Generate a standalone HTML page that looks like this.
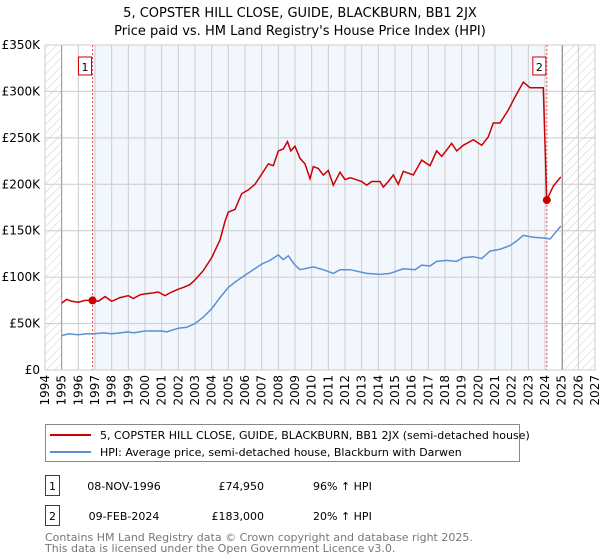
<!DOCTYPE html>
<html><head><meta charset="utf-8"><style>
body{margin:0;background:#fff;font-family:"Liberation Sans","DejaVu Sans",sans-serif;}
#wrap{position:relative;width:600px;height:560px;overflow:hidden}
svg text{font-family:"DejaVu Sans","Liberation Sans",sans-serif}
</style></head><body>
<div id="wrap">
<svg id="chart" width="600" height="560"></svg>
</div>
<script>
const redYears=[1995.0,1995.3,1995.6,1996.0,1996.4,1996.85,1997.2,1997.6,1998.0,1998.5,1999.0,1999.3,1999.7,2000.0,2000.5,2000.8,2001.2,2001.6,2002.0,2002.3,2002.7,2003.0,2003.5,2004.0,2004.5,2004.8,2005.0,2005.4,2005.8,2006.2,2006.6,2007.0,2007.4,2007.7,2008.0,2008.3,2008.55,2008.75,2009.0,2009.3,2009.6,2009.9,2010.1,2010.4,2010.7,2011.0,2011.3,2011.7,2012.0,2012.3,2012.5,2013.0,2013.3,2013.6,2014.1,2014.3,2014.6,2014.9,2015.2,2015.5,2016.1,2016.6,2017.1,2017.5,2017.8,2018.4,2018.7,2019.1,2019.7,2020.2,2020.6,2020.9,2021.3,2021.8,2022.2,2022.7,2023.1,2023.9,2024.1,2024.5,2024.95];
const redValues=[72,76,74,73,75,75,74,79,74,78,80,77,81,82,83,84,80,84,87,89,92,97,107,121,140,160,170,173,190,194,200,211,222,220,236,238,246,236,241,228,222,206,219,217,210,215,199,213,205,207,206,203,199,203,203,197,203,210,200,214,210,226,220,236,230,244,236,242,248,242,251,266,266,280,294,310,304,304,183,198,208];
const blueYears=[1995.0,1995.4,1996.0,1996.5,1997,1997.5,1998,1998.5,1999,1999.3,2000,2000.5,2001,2001.3,2002,2002.5,2003,2003.5,2004,2004.5,2005,2005.5,2006,2006.5,2007,2007.5,2008,2008.3,2008.6,2009,2009.3,2010.1,2010.7,2011.3,2011.7,2012.3,2013.3,2014.1,2014.7,2015.5,2016.2,2016.6,2017.1,2017.5,2018.1,2018.7,2019.1,2019.7,2020.2,2020.7,2021.3,2021.9,2022.3,2022.7,2023.3,2024.0,2024.3,2024.95];
const blueValues=[37,39,38,39,39,40,39,40,41,40,42,42,42,41,45,46,50,57,66,78,89,96,102,108,114,118,124,119,123,113,108,111,108,104,108,108,104,103,104,109,108,113,112,117,118,117,121,122,120,128,130,134,139,145,143,142,141,155];
const saleYears=[1996.85,2024.11];
const saleValues=[74.95,183];
const saleLabels=["1","2"];
const yTicks=[0,50,100,150,200,250,300,350];
const yTickLabels=["£0","£50K","£100K","£150K","£200K","£250K","£300K","£350K"];
const xTicks=[1994,1995,1996,1997,1998,1999,2000,2001,2002,2003,2004,2005,2006,2007,2008,2009,2010,2011,2012,2013,2014,2015,2016,2017,2018,2019,2020,2021,2022,2023,2024,2025,2026,2027];

const NS="http://www.w3.org/2000/svg";
const svg=document.getElementById('chart');
const L=45,R=595,T=45,B=370;
const xS=y=>L+(y-1994)/(2027-1994)*(R-L);
const yS=v=>B-v/350*(B-T);
function el(tag,attrs,parent){const e=document.createElementNS(NS,tag);for(const k in attrs)e.setAttribute(k,attrs[k]);(parent||svg).appendChild(e);return e;}

// defs hatch
const defs=el('defs',{});
const pat=el('pattern',{id:'hatch',width:6,height:6,patternUnits:'userSpaceOnUse',patternTransform:'rotate(45)'},defs);
el('line',{x1:0,y1:0,x2:0,y2:6,stroke:'#ccc','stroke-width':1},pat);

const bg=el('rect',{x:xS(saleYears[0]),y:T,width:xS(saleYears[1])-xS(saleYears[0]),height:B-T,fill:'#f2f6fd'});


const h1=el('rect',{x:L,y:T,width:xS(1995)-L,height:B-T,fill:'url(#hatch)'});


const h2=el('rect',{x:xS(2025.05),y:T,width:R-xS(2025.05),height:B-T,fill:'url(#hatch)'});



// grid
xTicks.forEach(t=>{const g=el('line',{x1:xS(t),x2:xS(t),y1:T,y2:B,stroke:'#ccc','stroke-width':1});

});
yTicks.forEach((t,i)=>{const g=el('line',{x1:L,x2:R,y1:yS(t),y2:yS(t),stroke:'#ccc','stroke-width':1});


const tx=el('text',{x:40,y:yS(t)+4,'text-anchor':'end','font-size':12,fill:'#000'});tx.textContent=yTickLabels[i];

});
el('line',{x1:xS(1995),x2:xS(1995),y1:T,y2:B,stroke:'#999','stroke-width':1});
el('line',{x1:xS(2025.05),x2:xS(2025.05),y1:T,y2:B,stroke:'#999','stroke-width':1});
el('rect',{x:L,y:T,width:R-L,height:B-T,fill:'none',stroke:'#ccc'});
xTicks.forEach(t=>{const tx=el('text',{x:0,y:0,'text-anchor':'end','font-size':12,fill:'#000',transform:`translate(${xS(t)+4},375) rotate(-90)`});tx.textContent=t;

});

// sale lines
saleYears.forEach(y=>{const l=el('line',{x1:xS(y),x2:xS(y),y1:T,y2:B,stroke:'#e55','stroke-width':1,'stroke-dasharray':'2,2'});

});

const path=(xs,vs)=>xs.map((x,i)=>(i?'L':'M')+xS(x).toFixed(1)+','+yS(vs[i]).toFixed(1)).join('');
const bl=el('path',{d:path(blueYears,blueValues),fill:'none',stroke:'#5b8fd6','stroke-width':1.5});


const rl=el('path',{d:path(redYears,redValues),fill:'none',stroke:'#cc0000','stroke-width':1.5});


saleYears.forEach((y,i)=>{const c=el('circle',{cx:xS(y),cy:yS(saleValues[i]),r:4,fill:'#cc0000'});


const bx=xS(y)-14;
const r=el('rect',{x:bx,y:57,width:13,height:18,fill:'#fff',stroke:'#cc0000'});


const t=el('text',{x:bx+6.5,y:71,'text-anchor':'middle','font-size':11});t.textContent=saleLabels[i];

});

// titles
const t1=el('text',{x:300,y:17,'text-anchor':'middle','font-size':13});t1.textContent="5, COPSTER HILL CLOSE, GUIDE, BLACKBURN, BB1 2JX";


const t2=el('text',{x:300,y:35,'text-anchor':'middle','font-size':13});t2.textContent="Price paid vs. HM Land Registry's House Price Index (HPI)";



// legend
const lg=el('g',{});


el('rect',{x:45.5,y:424.5,width:474,height:37,fill:'#fff',stroke:'#888'},lg);
el('line',{x1:50,x2:91,y1:435,y2:435,stroke:'#cc0000','stroke-width':2},lg);
el('line',{x1:50,x2:91,y1:452,y2:452,stroke:'#5b8fd6','stroke-width':2},lg);
const lt1=el('text',{x:100,y:439,'font-size':11},lg);lt1.textContent="5, COPSTER HILL CLOSE, GUIDE, BLACKBURN, BB1 2JX (semi-detached house)";


const lt2=el('text',{x:100,y:456,'font-size':11},lg);lt2.textContent="HPI: Average price, semi-detached house, Blackburn with Darwen";



// table
const rows=[["1","08-NOV-1996","£74,950","96% ↑ HPI",475],["2","09-FEB-2024","£183,000","20% ↑ HPI",505]];
rows.forEach(r=>{const y=r[4];
const b=el('rect',{x:45.5,y:y+0.5,width:14,height:20,fill:'#fff',stroke:'#cc0000'});


const a=el('text',{x:52.5,y:y+15,'text-anchor':'middle','font-size':11});a.textContent=r[0];
const d=el('text',{x:124,y:y+15,'text-anchor':'middle','font-size':11});d.textContent=r[1];


const p=el('text',{x:264,y:y+15,'text-anchor':'end','font-size':11});p.textContent=r[2];


const h=el('text',{x:313,y:y+15,'font-size':11});h.textContent=r[3];

});
const f1=el('text',{x:45,y:541,'font-size':11,fill:'#777'});f1.textContent="Contains HM Land Registry data © Crown copyright and database right 2025.";


const f2=el('text',{x:45,y:552,'font-size':11,fill:'#777'});f2.textContent="This data is licensed under the Open Government Licence v3.0.";


</script>
</body></html>
